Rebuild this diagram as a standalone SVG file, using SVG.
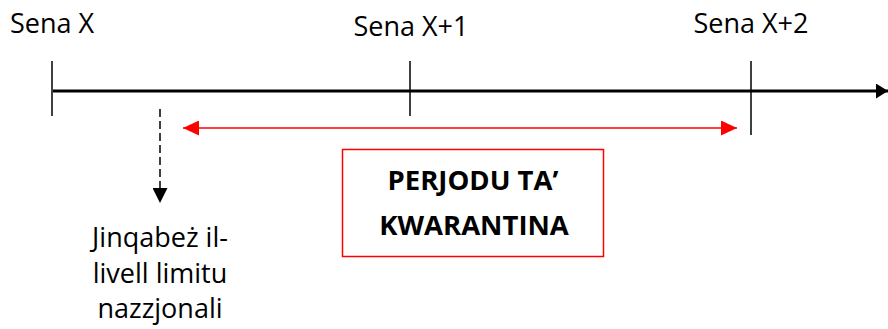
<svg xmlns="http://www.w3.org/2000/svg" width="888" height="329" viewBox="0 0 888 329">
<style>
.t{font-family:"Open Sans","Liberation Sans",sans-serif;font-size:27px;fill:#000}
.b{font-weight:bold;font-size:27.5px}
</style>
<defs>
<marker id="ab" markerWidth="12" markerHeight="15" refX="12" refY="7.5" orient="auto" markerUnits="userSpaceOnUse"><path d="M0,0 L12,7.5 L0,15 Z" fill="#000"/></marker>
<marker id="ar" markerWidth="16" markerHeight="15" refX="16" refY="7.5" orient="auto-start-reverse" markerUnits="userSpaceOnUse"><path d="M0,0 L16,7.5 L0,15 Z" fill="#f00"/></marker>
<marker id="ad" markerWidth="15" markerHeight="15" refX="7.5" refY="15" orient="0" markerUnits="userSpaceOnUse"><path d="M0,0 L15,0 L7.5,15 Z" fill="#000"/></marker>
</defs>
<rect width="888" height="329" fill="#fff"/>
<g id="connectors">
<line x1="53" y1="91" x2="888" y2="91" stroke="#000" stroke-width="3" marker-end="url(#ab)"/>
<line x1="52" y1="61" x2="52" y2="116" stroke="#000" stroke-width="1.5"/>
<line x1="410" y1="61" x2="410" y2="116" stroke="#000" stroke-width="1.5"/>
<line x1="751" y1="61" x2="751" y2="135" stroke="#000" stroke-width="1.5"/>
<line x1="183" y1="128" x2="737" y2="128" stroke="#f00" stroke-width="1.5" marker-start="url(#ar)" marker-end="url(#ar)"/>
<line x1="160" y1="109" x2="160" y2="203" stroke="#000" stroke-width="1.5" stroke-dasharray="8,4" marker-end="url(#ad)"/>
</g>
<g id="senaX"><text class="t" x="10" y="33">Sena X</text></g>
<g id="senaX1"><text class="t" x="411" y="36" text-anchor="middle">Sena X+1</text></g>
<g id="senaX2"><text class="t" x="751" y="33" text-anchor="middle">Sena X+2</text></g>
<g id="limit">
<text class="t" x="160" y="247" text-anchor="middle">Jinqabeż il-</text>
<text class="t" x="160" y="283" text-anchor="middle">livell limitu</text>
<text class="t" x="160" y="318" text-anchor="middle">nazzjonali</text>
</g>
<g id="kwarantina">
<rect x="342.5" y="149.5" width="261" height="107" fill="#fff" stroke="#f00" stroke-width="1.5"/>
<text class="t b" x="473" y="190" text-anchor="middle">PERJODU TA’</text>
<text class="t b" x="474" y="235" text-anchor="middle">KWARANTINA</text>
</g>
</svg>
